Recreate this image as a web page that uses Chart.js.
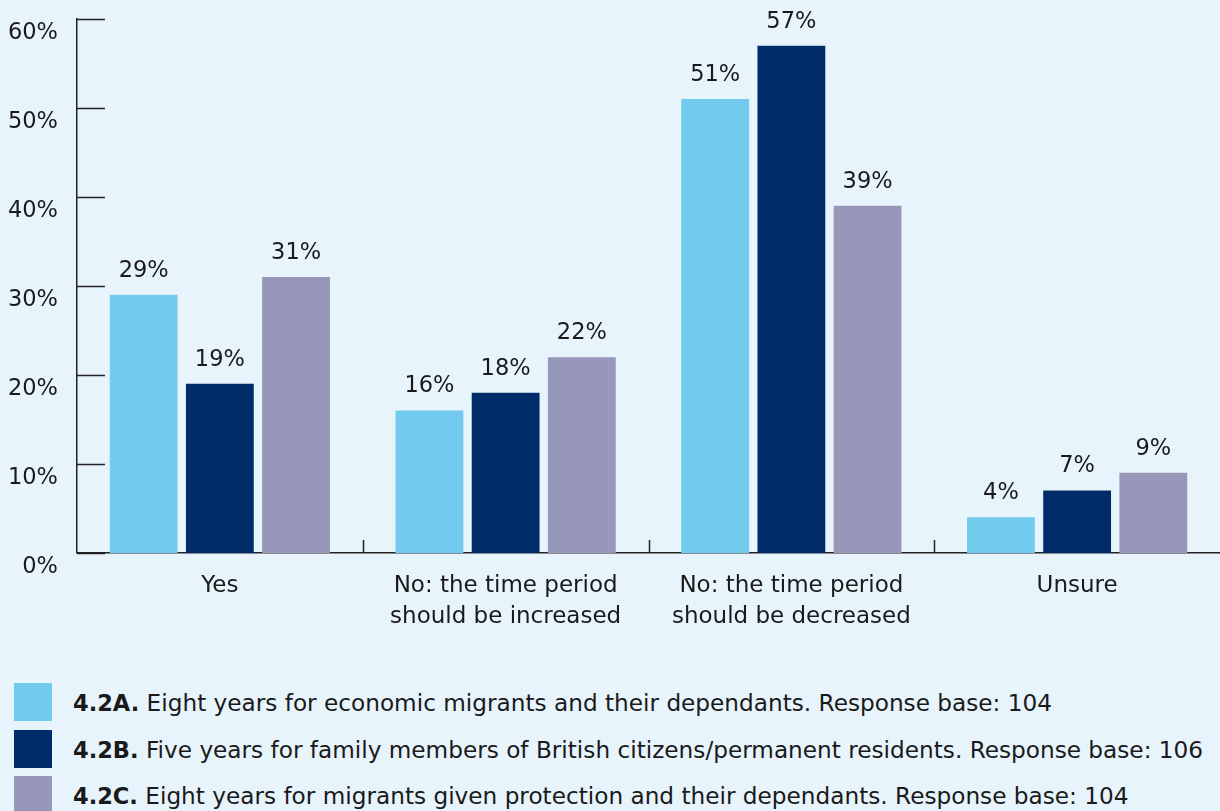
<!DOCTYPE html>
<html>
<head>
<meta charset="utf-8">
<script src="https://cdn.jsdelivr.net/npm/chart.js@4"></script>
<style>
  html, body { margin: 0; padding: 0; background: #e8f4fc; }
  body { width: 1220px; height: 811px; position: relative; overflow: hidden;
         font-family: "DejaVu Sans", sans-serif; color: #1a1a1a; }
  #chartBox { position: absolute; left: 0; top: 0; width: 1220px; height: 651px; }
  .legend-row { position: absolute; left: 14px; height: 38px; display: flex; align-items: center; }
  .legend-row .swatch { width: 38px; height: 38px; margin-right: 21px; flex: none; }
  .legend-row .txt { font-size: 23.2px; white-space: nowrap; }
  .legend-row b { font-weight: bold; font-size: 22.5px; }
</style>
</head>
<body>
<div id="chartBox"><canvas id="chart"></canvas></div>
<div id="legend"></div>
<script>
// survey answers on the x axis
const categories = [
    'Yes',
    ['No: the time period', 'should be increased'],
    ['No: the time period', 'should be decreased'],
    'Unsure'
];

// one series per question, values in %
const series42A = [29, 16, 51, 4];
const series42B = [19, 18, 57, 7];
const series42C = [31, 22, 39, 9];

const yTicks = [0, 10, 20, 30, 40, 50, 60];

const legendCodes = ['4.2A.', '4.2B.', '4.2C.'];
const legendTexts = [
    'Eight years for economic migrants and their dependants. Response base: 104',
    'Five years for family members of British citizens/permanent residents. Response base: 106',
    'Eight years for migrants given protection and their dependants. Response base: 104'
];

const barColors = ['#72cbee', '#002d69', '#9797ba'];
const inkColor = '#1a1a1a';
const axisColor = '#222222';
const fontFamily = '"DejaVu Sans", sans-serif';

// inward tick marks, category dividers, % labels on y axis and above bars
const decorations = {
    id: 'decorations',
    afterDatasetsDraw(chart) {
        const ctx = chart.ctx;
        const x = chart.scales.x;
        const y = chart.scales.y;
        const area = chart.chartArea;
        ctx.save();
        ctx.strokeStyle = axisColor;
        ctx.lineWidth = 1.5;

        // short ticks pointing into the plot
        yTicks.forEach(v => {
            const py = Math.round(y.getPixelForValue(v)) + 0.5;
            ctx.beginPath();
            ctx.moveTo(area.left, py);
            ctx.lineTo(area.left + 28, py);
            ctx.stroke();
        });

        // dividers between categories
        for (let i = 1; i < categories.length; i++) {
            const px = Math.round((x.getPixelForValue(i - 1) + x.getPixelForValue(i)) / 2) + 0.5;
            ctx.beginPath();
            ctx.moveTo(px, area.bottom);
            ctx.lineTo(px, area.bottom - 13);
            ctx.stroke();
        }

        // y labels sit a little below their tick
        ctx.fillStyle = inkColor;
        ctx.font = '22.5px ' + fontFamily;
        ctx.textAlign = 'right';
        ctx.textBaseline = 'middle';
        yTicks.forEach(v => {
            ctx.fillText(v + '%', 58, y.getPixelForValue(v) + 14);
        });

        // value labels above each bar
        ctx.textAlign = 'center';
        ctx.textBaseline = 'middle';
        chart.data.datasets.forEach((ds, di) => {
            chart.getDatasetMeta(di).data.forEach((bar, i) => {
                ctx.fillText(ds.data[i] + '%', bar.x, bar.y - 24);
            });
        });
        ctx.restore();
    }
};

new Chart(document.getElementById('chart'), {
    type: 'bar',
    data: {
        labels: categories,
        datasets: [
            { label: legendCodes[0], data: series42A, backgroundColor: barColors[0] },
            { label: legendCodes[1], data: series42B, backgroundColor: barColors[1] },
            { label: legendCodes[2], data: series42C, backgroundColor: barColors[2] }
        ]
    },
    options: {
        responsive: true,
        maintainAspectRatio: false,
        animation: false,
        categoryPercentage: 0.8,
        barPercentage: 0.89,
        layout: { padding: { left: 77, top: 19, right: 0, bottom: 0 } },
        plugins: {
            legend: { display: false },
            tooltip: { enabled: false }
        },
        scales: {
            x: {
                grid: { display: false, drawTicks: false },
                border: { display: true, color: axisColor, width: 1.5 },
                ticks: {
                    color: inkColor,
                    font: { family: fontFamily, size: 23, lineHeight: 1.35 },
                    padding: 18,
                    maxRotation: 0,
                    autoSkip: false
                }
            },
            y: {
                min: 0,
                max: 60,
                grid: { display: false, drawTicks: false },
                border: { display: true, color: axisColor, width: 1.5 },
                ticks: { display: false, stepSize: 10 }
            }
        }
    },
    plugins: [decorations]
});

// legend with bold series codes
const legendEl = document.getElementById('legend');
const legendTops = [683, 730, 776];
legendCodes.forEach((code, i) => {
    const row = document.createElement('div');
    row.className = 'legend-row';
    row.style.top = legendTops[i] + 'px';
    row.innerHTML = `<div class="swatch" style="background:${barColors[i]}"></div>` +
        `<div class="txt"><b>${code}</b> ${legendTexts[i]}</div>`;
    legendEl.appendChild(row);
});
</script>
</body>
</html>
